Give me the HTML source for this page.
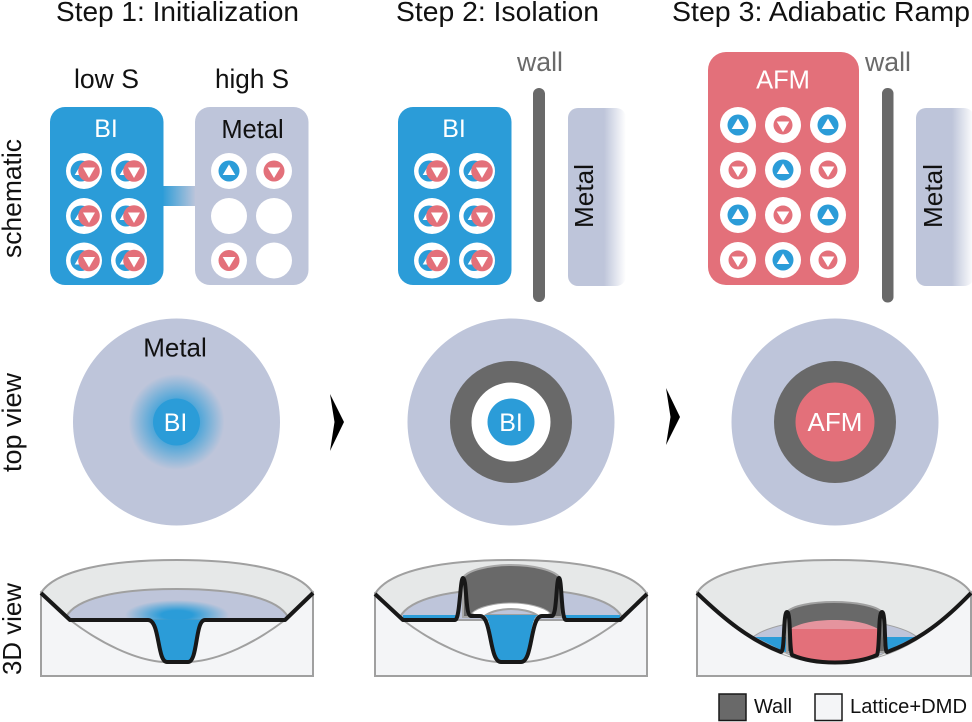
<!DOCTYPE html>
<html><head><meta charset="utf-8"><style>
html,body{margin:0;padding:0;background:#fff}
svg{display:block}
text{font-family:"Liberation Sans",Arial,sans-serif}
</style></head><body>
<svg xmlns="http://www.w3.org/2000/svg" width="972" height="722" viewBox="0 0 972 722">
<defs>
<linearGradient id="bridge" x1="0" x2="1" y1="0" y2="0"><stop offset="0" stop-color="#2b9cd8"/><stop offset="1" stop-color="#bec5da"/></linearGradient>
<linearGradient id="fade" x1="0" x2="1" y1="0" y2="0"><stop offset="0" stop-color="#bec5da"/><stop offset="0.62" stop-color="#bec5da"/><stop offset="1" stop-color="#bec5da" stop-opacity="0"/></linearGradient>
<radialGradient id="glow"><stop offset="0.45" stop-color="#2b9cd8" stop-opacity="0.8"/><stop offset="1" stop-color="#2b9cd8" stop-opacity="0"/></radialGradient>
<radialGradient id="glow3d"><stop offset="0.3" stop-color="#2b9cd8"/><stop offset="1" stop-color="#2b9cd8" stop-opacity="0"/></radialGradient>
<clipPath id="surf1"><rect x="60" y="590" width="240" height="30"/></clipPath>
<g id="up"><polygon points="0,-6.500 6.300,4 -6.300,4" fill="#fff"/></g>
<g id="dn"><polygon points="0,7 6.300,-3.500 -6.300,-3.500" fill="#fff"/></g>
<g id="cu"><circle r="18" fill="#fff"/><circle r="10.500" fill="#2b9cd8"/><use href="#up"/></g>
<g id="cd"><circle r="18" fill="#fff"/><circle r="10.500" fill="#e3707a"/><use href="#dn"/></g>
<g id="cd2"><circle r="18" fill="#fff"/><circle r="9.500" fill="#e3707a"/><use href="#dn"/></g>
<g id="cb"><circle r="18" fill="#fff"/><circle cx="-3" r="10.500" fill="#2b9cd8"/><polygon points="-3,-6.500 3.300,4 -9.300,4" fill="#fff"/><circle cx="5" r="10.800" fill="#e3707a"/><polygon points="5,7 11,-3.500 -1,-3.500" fill="#fff"/></g>
<g id="bi">
<rect width="113.500" height="178" rx="15" fill="#2b9cd8"/>
<use href="#cb" x="34" y="64"/><use href="#cb" x="79" y="64"/>
<use href="#cb" x="34" y="109"/><use href="#cb" x="79" y="109"/>
<use href="#cb" x="34" y="153.500"/><use href="#cb" x="79" y="153.500"/>
<text x="56" y="30" font-size="25" fill="#fff" text-anchor="middle">BI</text>
</g>
</defs>

<!-- titles -->
<text x="56" y="21" font-size="28" textLength="243" lengthAdjust="spacingAndGlyphs" fill="#111">Step 1: Initialization</text>
<text x="396" y="21" font-size="28" textLength="203" lengthAdjust="spacingAndGlyphs" fill="#111">Step 2: Isolation</text>
<text x="672" y="21" font-size="28" textLength="298" lengthAdjust="spacingAndGlyphs" fill="#111">Step 3: Adiabatic Ramp</text>
<text x="74" y="88" font-size="26.500" textLength="65" lengthAdjust="spacingAndGlyphs" fill="#111">low S</text>
<text x="215" y="88" font-size="26.500" textLength="74" lengthAdjust="spacingAndGlyphs" fill="#111">high S</text>
<text x="517" y="71" font-size="26.500" textLength="46" lengthAdjust="spacingAndGlyphs" fill="#6a6a6a">wall</text>
<text x="865" y="71" font-size="26.500" textLength="46" lengthAdjust="spacingAndGlyphs" fill="#6a6a6a">wall</text>

<!-- row labels -->
<text transform="translate(21,258) rotate(-90)" font-size="26.500" textLength="119" lengthAdjust="spacingAndGlyphs" fill="#111">schematic</text>
<text transform="translate(21,472) rotate(-90)" font-size="26.500" textLength="99" lengthAdjust="spacingAndGlyphs" fill="#111">top view</text>
<text transform="translate(21,675) rotate(-90)" font-size="26" textLength="92" lengthAdjust="spacingAndGlyphs" fill="#111">3D view</text>

<!-- schematic 1 -->
<rect x="162" y="186" width="34" height="20" fill="url(#bridge)"/>
<use href="#bi" x="50" y="107"/>
<rect x="195" y="107" width="113.500" height="178" rx="15" fill="#bec5da"/>
<text x="252.500" y="138" font-size="25.500" text-anchor="middle" fill="#111">Metal</text>
<use href="#cu" x="229" y="171"/><use href="#cd" x="274" y="171"/>
<circle cx="229" cy="216" r="18" fill="#fff"/><circle cx="274" cy="216" r="18" fill="#fff"/>
<use href="#cd" x="229" y="260.500"/><circle cx="274" cy="260.500" r="18" fill="#fff"/>

<!-- schematic 2 -->
<use href="#bi" x="398" y="107"/>
<rect x="533" y="88" width="12" height="214" rx="6" fill="#696969"/>
<rect x="568" y="108" width="58" height="178" rx="10" fill="url(#fade)"/>
<text transform="translate(593,228) rotate(-90)" font-size="26" textLength="64" lengthAdjust="spacingAndGlyphs" fill="#111">Metal</text>

<!-- schematic 3 -->
<rect x="708" y="52" width="151" height="233" rx="18" fill="#e3707a"/>
<text x="783" y="88.500" font-size="25.500" text-anchor="middle" fill="#fff">AFM</text>
<use href="#cu" x="738" y="125"/><use href="#cd2" x="783" y="125"/><use href="#cu" x="828" y="125"/>
<use href="#cd2" x="738" y="170"/><use href="#cu" x="783" y="170"/><use href="#cd2" x="828" y="170"/>
<use href="#cu" x="738" y="215"/><use href="#cd2" x="783" y="215"/><use href="#cu" x="828" y="215"/>
<use href="#cd2" x="738" y="260"/><use href="#cu" x="783" y="260"/><use href="#cd2" x="828" y="260"/>
<rect x="882" y="88" width="11.500" height="214.500" rx="5.500" fill="#696969"/>
<rect x="916" y="108" width="58" height="178" rx="10" fill="url(#fade)"/>
<text transform="translate(942,228) rotate(-90)" font-size="26" textLength="64" lengthAdjust="spacingAndGlyphs" fill="#111">Metal</text>

<!-- top views -->
<circle cx="176.500" cy="422" r="103.500" fill="#bec5da"/>
<circle cx="176.500" cy="422" r="48" fill="url(#glow)"/>
<circle cx="176.500" cy="422" r="23.500" fill="#2b9cd8"/>
<text x="175" y="356.500" font-size="26" text-anchor="middle" fill="#111">Metal</text>
<text x="175.500" y="431" font-size="25" text-anchor="middle" fill="#fff">BI</text>

<circle cx="511" cy="422" r="103.500" fill="#bec5da"/>
<circle cx="511" cy="422" r="61" fill="#696969"/>
<circle cx="511" cy="422" r="39.500" fill="#fff"/>
<circle cx="511" cy="422" r="23.500" fill="#2b9cd8"/>
<text x="511" y="431" font-size="25" text-anchor="middle" fill="#fff">BI</text>

<circle cx="835" cy="422" r="103.500" fill="#bec5da"/>
<circle cx="835" cy="422" r="61" fill="#696969"/>
<circle cx="835" cy="422" r="39.500" fill="#e3707a"/>
<text x="835" y="431" font-size="26" text-anchor="middle" fill="#fff">AFM</text>

<!-- arrows -->
<path d="M330 394 L344 422 L330 451 L334.500 422Z" fill="#000"/>
<path d="M666 388 L680 417 L666 445 L670.500 417Z" fill="#000"/>

<!-- 3D view 1 -->
<path d="M41 593 L41 676 L313 676 L313 593 L285 620 H70 Z" fill="#f4f5f7" stroke="#a0a0a0" stroke-width="2"/>
<path d="M41 593 C55 570 110 560 177 560 C244 560 299 570 313 593 L285 620 H70 Z" fill="#e6e8e8"/>
<path d="M41 593 C55 570 110 560 177 560 C244 560 299 570 313 593" fill="none" stroke="#a0a0a0" stroke-width="2"/>
<path d="M66 617 C76 598 118 589 177 589 C236 589 278 598 288 617 L285 620 H70 Z" fill="#bec5da" stroke="#a0a0a0" stroke-width="2"/>
<ellipse cx="177" cy="615" rx="52" ry="15" fill="url(#glow3d)" clip-path="url(#surf1)"/>
<path d="M70 620 C100 643 135 660 163 662 H190 C220 660 255 643 285 620" fill="none" stroke="#a0a0a0" stroke-width="2"/>
<path d="M148 620 C160 620 157 662 167 662 H188 C198 662 195 620 205 620 Z" fill="#2b9cd8"/>
<path d="M41 593 L70 620 H148 C160 620 157 662 167 662 H188 C198 662 195 620 205 620 H285 L313 593" fill="none" stroke="#181818" stroke-width="4" stroke-linejoin="round"/>

<!-- 3D view 2 -->
<path d="M375 594 L375 676 L647 676 L647 594 L620 620 H403 Z" fill="#f4f5f7" stroke="#a0a0a0" stroke-width="2"/>
<path d="M375 594 C389 570 444 560 511 560 C578 560 633 570 647 594 L620 620 H403 Z" fill="#e6e8e8"/>
<path d="M375 594 C389 570 444 560 511 560 C578 560 633 570 647 594" fill="none" stroke="#a0a0a0" stroke-width="2"/>
<path d="M400 617 C410 598 452 589 511 589 C570 589 612 598 622 617 L620 620 H403 Z" fill="#bec5da" stroke="#a0a0a0" stroke-width="2"/>
<rect x="403" y="615" width="54" height="5" fill="#2b9cd8"/>
<rect x="565" y="615" width="55" height="5" fill="#2b9cd8"/>
<path d="M403 620 C433 643 470 660 497 662 H525 C555 660 590 643 620 620" fill="none" stroke="#a0a0a0" stroke-width="2"/>
<path d="M463 578 C467 570 490 565 511 565 C532 565 555 570 560 578 L562 617 H463 Z" fill="#696969" stroke="#a8a8a8" stroke-width="2"/>
<path d="M472 613 C478 607 495 603 511 603 C527 603 544 607 550 613 L546 616 H476 Z" fill="#fff" stroke="#aaa" stroke-width="1"/>
<path d="M486 615 C492 611 502 609 511 609 C520 609 531 611 537 615 Z" fill="#bec5da" stroke="#a0a0a0" stroke-width="2"/>
<path d="M484 615 C493 617 491 662 501 662 H521 C531 662 529 617 538 615 Z" fill="#2b9cd8"/>
<path d="M375 594 L403 620 H455 C460 620 460 578 463 578 C467 578 465 616 471 616 H480 C492 616 489 662 501 662 H521 C533 662 530 616 542 616 H552 C557 616 556 578 559 578 C562 578 561 620 566 620 H620 L647 594" fill="none" stroke="#181818" stroke-width="4" stroke-linejoin="round"/>

<!-- 3D view 3 -->
<path d="M697 593 L697 676 L971 676 L971 593 C940 625 900 663 834 663 C770 663 730 625 697 593Z" fill="#f4f5f7" stroke="#a0a0a0" stroke-width="2"/>
<path d="M697 593 C711 570 767 560 834 560 C901 560 957 570 971 593 C940 625 900 663 834 663 C770 663 730 625 697 593Z" fill="#e6e8e8"/>
<path d="M697 593 C711 570 767 560 834 560 C901 560 957 570 971 593" fill="none" stroke="#a0a0a0" stroke-width="2"/>
<path d="M753 637 C765 627 800 619 835 619 C870 619 905 627 917 637 L880 655 H790 Z" fill="#bec5da" stroke="#a0a0a0" stroke-width="1"/>
<path d="M755 637 H915 L884 652 H785 Z" fill="#2b9cd8"/>
<path d="M787 612 C792 606 812 602 834 602 C856 602 876 606 882 612 L885 652 H787 Z" fill="#696969" stroke="#a0a0a0" stroke-width="2"/>
<path d="M790 629 C800 623 815 620 834 620 C853 620 868 623 878 629 Z" fill="#e5949e"/>
<path d="M790 629 H878 L877 655 C850 665 815 665 792 655 Z" fill="#e3707a"/>
<path d="M697 593 C725 620 750 640 781 652 C785 652 783 612 787 612 C791 612 789 648 792 655 C815 665 855 665 877 655 C880 648 878 612 882 612 C886 612 884 652 887 652 C920 640 945 620 971 593" fill="none" stroke="#181818" stroke-width="4" stroke-linejoin="round"/>

<!-- legend -->
<rect x="719" y="694" width="27" height="26.500" fill="#696969" stroke="#181818" stroke-width="1.500"/>
<text x="754" y="713" font-size="20" textLength="38" lengthAdjust="spacingAndGlyphs" fill="#111">Wall</text>
<rect x="815" y="694" width="27" height="26.500" fill="#f4f5f7" stroke="#181818" stroke-width="1.500"/>
<text x="850" y="713" font-size="20" textLength="117" lengthAdjust="spacingAndGlyphs" fill="#111">Lattice+DMD</text>
</svg>
</body></html>
